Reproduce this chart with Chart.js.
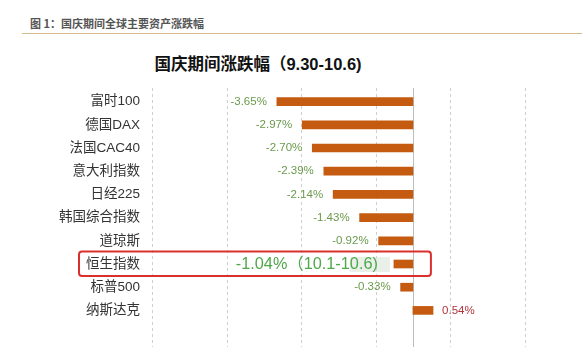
<!DOCTYPE html>
<html>
<head>
<meta charset="utf-8">
<script src="https://cdn.jsdelivr.net/npm/chart.js@4"></script>
<style>
  html, body { margin: 0; padding: 0; background: #fff; overflow: hidden; }
  #wrap { position: relative; width: 582px; height: 347px; }
  #cap { position: absolute; left: 30px; top: 15px; font: bold 11px "Noto Sans CJK SC", sans-serif; color: #555; }
  #rule { position: absolute; left: 22px; top: 33px; width: 560px; height: 1px; background: #d9b98c; }
  #ttl { position: absolute; left: 0; width: 516px; top: 51px; text-align: center; font: bold 16.5px "Liberation Sans", "Noto Sans CJK SC", sans-serif; color: #111; }
  canvas { position: absolute; left: 0; top: 0; }
</style>
</head>
<body>
<div id="wrap">
  <div id="cap">图 1：国庆期间全球主要资产涨跌幅</div>
  <div id="rule"></div>
  <div id="ttl">国庆期间涨跌幅（9.30-10.6)</div>
  <canvas id="myChart" width="582" height="347"></canvas>
</div>
<script>
const ctx = document.getElementById('myChart'); // el canvas

// datos
const categorias = ['富时100', '德国DAX', '法国CAC40', '意大利指数', '日经225', '韩国综合指数', '道琼斯', '恒生指数', '标普500', '纳斯达克'];
const cambios = [-3.65, -2.97, -2.70, -2.39, -2.14, -1.43, -0.92, -0.51, -0.33, 0.54];
const etiquetas = ['-3.65%', '-2.97%', '-2.70%', '-2.39%', '-2.14%', '-1.43%', '-0.92%', '', '-0.33%', '0.54%'];
const destacado = 7; // fila del recuadro rojo
const textoDestacado = '-1.04%（10.1-10.6)';
const marcasX = [-7, -5, -3, -1, 1, 3];

// rejilla discontinua y linea del cero hasta abajo
const rejilla = {
  id: 'rejilla',
  beforeDatasetsDraw(chart) {
    const c = chart.ctx, x = chart.scales.x, top = chart.chartArea.top - 2, bottom = chart.height;
    c.save();
    c.strokeStyle = '#cfcfcf';
    c.lineWidth = 1;
    c.setLineDash([3, 3]);
    for (const v of marcasX) {
      const px = Math.round(x.getPixelForValue(v)) + 0.5;
      c.beginPath(); c.moveTo(px, top); c.lineTo(px, bottom); c.stroke();
    }
    c.setLineDash([]);
    c.strokeStyle = '#bdbdbd';
    const p0 = Math.round(x.getPixelForValue(0)) + 0.5;
    c.beginPath(); c.moveTo(p0, top); c.lineTo(p0, bottom); c.stroke();
    c.restore();
  }
};

// etiquetas de valores y recuadro
const valores = {
  id: 'valores',
  afterDatasetsDraw(chart) {
    const c = chart.ctx, meta = chart.getDatasetMeta(0), x = chart.scales.x;
    c.save();
    c.textBaseline = 'middle';
    meta.data.forEach((bar, i) => {
      if (i === destacado) return;
      c.font = '11.5px "Liberation Sans", sans-serif';
      if (cambios[i] < 0) {
        c.fillStyle = '#6a9a4c';
        c.textAlign = 'right';
        c.fillText(etiquetas[i], bar.x - 10, bar.y);
      } else {
        c.fillStyle = '#b3343c';
        c.textAlign = 'left';
        c.fillText(etiquetas[i], bar.x + 9, bar.y);
      }
    });
    // fila destacada
    const b = meta.data[destacado];
    c.fillStyle = 'rgba(218,230,218,0.6)';
    c.fillRect(b.x - 44, b.y - 7, 40, 15);
    c.font = '16.3px "Liberation Sans", "Noto Sans CJK SC", sans-serif';
    c.fillStyle = '#4fa84a';
    c.textAlign = 'right';
    c.fillText(textoDestacado, b.x - 16, b.y + 1);
    c.strokeStyle = '#d9302c';
    c.lineWidth = 2;
    const x1 = 79, x2 = x.getPixelForValue(0) + 18, y1 = b.y - 12.5, y2 = b.y + 12;
    c.beginPath();
    c.roundRect(x1, y1, x2 - x1, y2 - y1, 3);
    c.stroke();
    c.restore();
  }
};

new Chart(ctx, {
  type: 'bar',
  data: {
    labels: categorias,
    datasets: [{
      data: cambios,
      backgroundColor: '#c55a11',
      barThickness: 8
    }]
  },
  options: {
    indexAxis: 'y',
    responsive: false,
    animation: false,
    layout: { padding: { top: 90, right: 20, bottom: 17, left: 0 } },
    plugins: {
      legend: { display: false },
      title: { display: false },
      tooltip: { enabled: false }
    },
    scales: {
      x: {
        min: -7,
        max: 4,
        afterBuildTicks(s) { s.ticks = marcasX.map(v => ({ value: v })); },
        grid: { display: false },
        border: { display: false },
        ticks: { display: false }
      },
      y: {
        afterFit(s) { s.width = 152; },
        grid: { display: false, drawTicks: false },
        border: { display: false },
        ticks: {
          padding: 12,
          color: '#333',
          font: { size: 13.5, family: '"Liberation Sans", "Noto Sans CJK SC", sans-serif' }
        }
      }
    }
  },
  plugins: [rejilla, valores]
});
</script>
</body>
</html>
